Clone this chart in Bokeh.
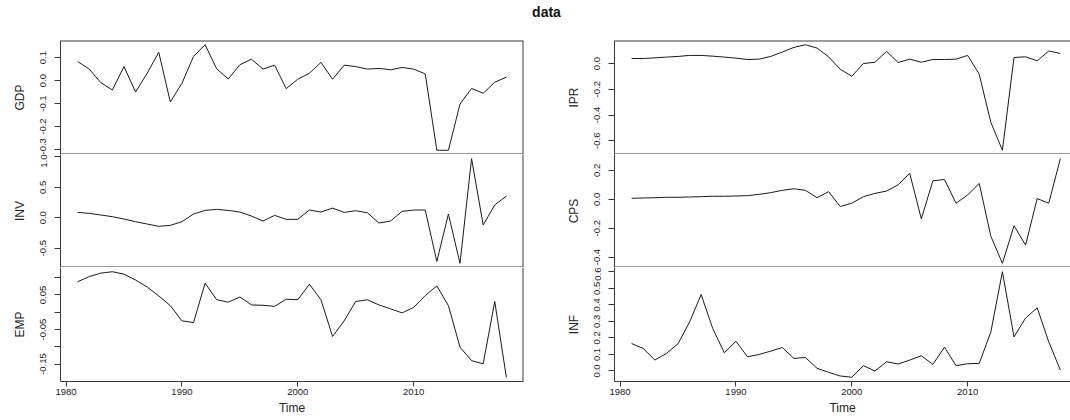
from bokeh.plotting import figure
from bokeh.layouts import column, row
from bokeh.models import FixedTicker, Range1d, Span
from bokeh.embed import file_html
from bokeh.resources import INLINE
from bokeh.core.properties import value

# ---------------- data ----------------
years = list(range(1981, 2019))

gdp = [0.083, 0.050, -0.009, -0.041, 0.061, -0.050, 0.032, 0.123, -0.093, -0.012,
       0.105, 0.156, 0.051, 0.007, 0.069, 0.093, 0.050, 0.067, -0.035, 0.006,
       0.032, 0.079, 0.006, 0.067, 0.061, 0.050, 0.053, 0.047, 0.057, 0.050,
       0.029, -0.303, -0.303, -0.102, -0.034, -0.055, -0.007, 0.015]

inv = [0.087, 0.071, 0.044, 0.016, -0.022, -0.066, -0.104, -0.142, -0.126, -0.066,
       0.060, 0.120, 0.137, 0.120, 0.093, 0.027, -0.055, 0.038, -0.027, -0.027,
       0.126, 0.093, 0.158, 0.087, 0.115, 0.082, -0.087, -0.055, 0.104, 0.126,
       0.126, -0.720, 0.060, -0.750, 0.970, -0.120, 0.210, 0.355]

emp = [0.088, 0.103, 0.113, 0.117, 0.110, 0.093, 0.073, 0.047, 0.019, -0.025,
       -0.030, 0.084, 0.036, 0.029, 0.044, 0.021, 0.020, 0.017, 0.0375, 0.036,
       0.081, 0.036, -0.070, -0.025, 0.031, 0.036, 0.021, 0.010, -0.002, 0.014,
       0.048, 0.076, 0.019, -0.101, -0.140, -0.149, 0.031, -0.188]

ipr = [0.039, 0.039, 0.044, 0.050, 0.055, 0.063, 0.063, 0.057, 0.050, 0.042,
       0.031, 0.034, 0.055, 0.089, 0.125, 0.146, 0.120, 0.052, -0.044, -0.099,
       0.000, 0.010, 0.094, 0.008, 0.034, 0.010, 0.031, 0.031, 0.034, 0.063,
       -0.084, -0.457, -0.674, 0.047, 0.052, 0.021, 0.097, 0.078]

cps = [0.007, 0.009, 0.011, 0.014, 0.014, 0.016, 0.018, 0.021, 0.021, 0.023,
       0.025, 0.034, 0.046, 0.062, 0.073, 0.062, 0.011, 0.053, -0.050, -0.027,
       0.018, 0.041, 0.057, 0.100, 0.180, -0.135, 0.128, 0.137, -0.027, 0.030,
       0.110, -0.256, -0.443, -0.183, -0.317, 0.005, -0.027, 0.281]

inf = [0.166, 0.136, 0.066, 0.106, 0.164, 0.296, 0.462, 0.256, 0.110, 0.180,
       0.086, 0.100, 0.120, 0.142, 0.076, 0.082, 0.016, -0.008, -0.030, -0.038,
       0.032, 0.000, 0.056, 0.042, 0.066, 0.092, 0.040, 0.144, 0.032, 0.044,
       0.046, 0.236, 0.600, 0.206, 0.320, 0.382, 0.176, 0.006]

x_ticks = [1980, 1990, 2000, 2010]
x_tick_labels = ["1980", "1990", "2000", "2010"]

gdp_ticks = [-0.3, -0.2, -0.1, 0.0, 0.1]
gdp_labels = ["-0.3", "-0.2", "-0.1", "0.0", "0.1"]
inv_ticks = [-0.5, 0.0, 0.5, 1.0]
inv_labels = ["-0.5", "0.0", "0.5", "1.0"]
emp_ticks = [-0.15, -0.1, -0.05, 0.0, 0.05, 0.1]
emp_labels = ["-0.15", "", "-0.05", "", "0.05", ""]
ipr_ticks = [-0.6, -0.4, -0.2, 0.0]
ipr_labels = ["-0.6", "-0.4", "-0.2", "0.0"]
cps_ticks = [-0.4, -0.2, 0.0, 0.2]
cps_labels = ["-0.4", "-0.2", "0.0", "0.2"]
inf_ticks = [0.0, 0.1, 0.2, 0.3, 0.4, 0.5, 0.6]
inf_labels = ["0.0", "0.1", "0.2", "0.3", "0.4", "0.5", "0.6"]

title_text = "data"
x_label = "Time"

FONT = "Liberation Sans"
TXT = "#222222"
LINE = "#1a1a1a"
BOX = "#3a3a3a"

# ---------------- layout ----------------
X0 = years[0] - 0.04 * (years[-1] - years[0])
X1 = years[-1] + 0.04 * (years[-1] - years[0])
LEFT_FIG_W = 560
LEFT_FRAME_X = 60
LEFT_FRAME_W = 463
RIGHT_FRAME_X = 614
RIGHT_FRAME_W = 1070 - RIGHT_FRAME_X
PX_PER_YEAR = LEFT_FRAME_W / (X1 - X0)


def make_panel(name, vals, ticks, labels, side, pos):
    lo, hi = min(vals), max(vals)
    pad = 0.04 * (hi - lo)
    left_col = side == "left"
    if left_col:
        mb_left = LEFT_FRAME_X
        mb_right = LEFT_FIG_W - LEFT_FRAME_X - LEFT_FRAME_W
        width = LEFT_FIG_W
        xr = Range1d(X0, X1)
    else:
        mb_left = RIGHT_FRAME_X - LEFT_FIG_W
        mb_right = 0
        width = mb_left + RIGHT_FRAME_W
        xr = Range1d(X0, X0 + RIGHT_FRAME_W / PX_PER_YEAR)
    if pos == "top":
        height, mb_bottom = 114, 0
    elif pos == "mid":
        height, mb_bottom = 113, 0
    else:
        height, mb_bottom = 153, 39
    p = figure(width=width, height=height, x_range=xr,
               y_range=Range1d(lo - pad, hi + pad),
               toolbar_location=None, output_backend="svg",
               x_axis_location="below" if pos == "bot" else None,
               min_border_left=mb_left, min_border_right=mb_right,
               min_border_top=0, min_border_bottom=mb_bottom,
               background_fill_color="white", border_fill_color="white",
               outline_line_color=None)
    p.grid.visible = False
    p.line(years, vals, line_color=LINE, line_width=1)

    # panel box: each shared edge drawn once
    if pos == "top":
        p.add_layout(Span(location=hi + pad, dimension="width",
                          line_color=BOX, line_width=2))
    if pos != "bot":
        p.add_layout(Span(location=lo - pad, dimension="width",
                          line_color=BOX, line_width=2))
    if left_col:
        p.add_layout(Span(location=X1, dimension="height",
                          line_color=BOX, line_width=2))

    ya = p.yaxis[0]
    ya.ticker = FixedTicker(ticks=ticks)
    ya.major_label_overrides = {t: l for t, l in zip(ticks, labels)}
    ya.major_label_orientation = "vertical"
    ya.minor_tick_line_color = None
    ya.major_tick_in = 0
    ya.major_tick_out = 6
    ya.major_tick_line_color = BOX
    ya.axis_line_color = BOX
    ya.major_label_text_font = FONT
    ya.major_label_text_font_size = "9.5px"
    ya.major_label_text_color = TXT
    ya.major_label_standoff = 8
    ya.axis_label = name
    ya.axis_label_text_font = FONT
    ya.axis_label_text_font_size = "12px"
    ya.axis_label_text_font_style = "normal"
    ya.axis_label_text_color = TXT
    ya.axis_label_standoff = 11

    if pos == "bot":
        xa = p.xaxis[0]
        xa.ticker = FixedTicker(ticks=x_ticks)
        xa.major_label_overrides = {t: l for t, l in zip(x_ticks, x_tick_labels)}
        xa.minor_tick_line_color = None
        xa.major_tick_in = 0
        xa.major_tick_out = 5
        xa.major_tick_line_color = BOX
        xa.axis_line_color = BOX
        xa.major_label_text_font = FONT
        xa.major_label_text_font_size = "9.5px"
        xa.major_label_text_color = TXT
        xa.major_label_standoff = 2
        xa.axis_label = x_label
        xa.axis_label_text_font = FONT
        xa.axis_label_text_font_size = "12px"
        xa.axis_label_text_font_style = "normal"
        xa.axis_label_text_color = TXT
        xa.axis_label_standoff = 3
    return p


title_fig = figure(width=1070, height=40, x_range=Range1d(0, 1070),
                   y_range=Range1d(0, 40), toolbar_location=None,
                   output_backend="svg", x_axis_location=None,
                   y_axis_location=None, min_border=0,
                   outline_line_color=None)
title_fig.grid.visible = False
title_fig.text(x=[546], y=[29], text=[title_text], text_font=value(FONT),
               text_font_size="14px", text_font_style="bold",
               text_align="center", text_baseline="middle", text_color="#111111")

left = column(
    make_panel("GDP", gdp, gdp_ticks, gdp_labels, "left", "top"),
    make_panel("INV", inv, inv_ticks, inv_labels, "left", "mid"),
    make_panel("EMP", emp, emp_ticks, emp_labels, "left", "bot"),
    spacing=0)
right = column(
    make_panel("IPR", ipr, ipr_ticks, ipr_labels, "right", "top"),
    make_panel("CPS", cps, cps_ticks, cps_labels, "right", "mid"),
    make_panel("INF", inf, inf_ticks, inf_labels, "right", "bot"),
    spacing=0)

page = column(title_fig, row(left, right, spacing=0), spacing=0)

open("out.html", "w").write(file_html(page, INLINE))
